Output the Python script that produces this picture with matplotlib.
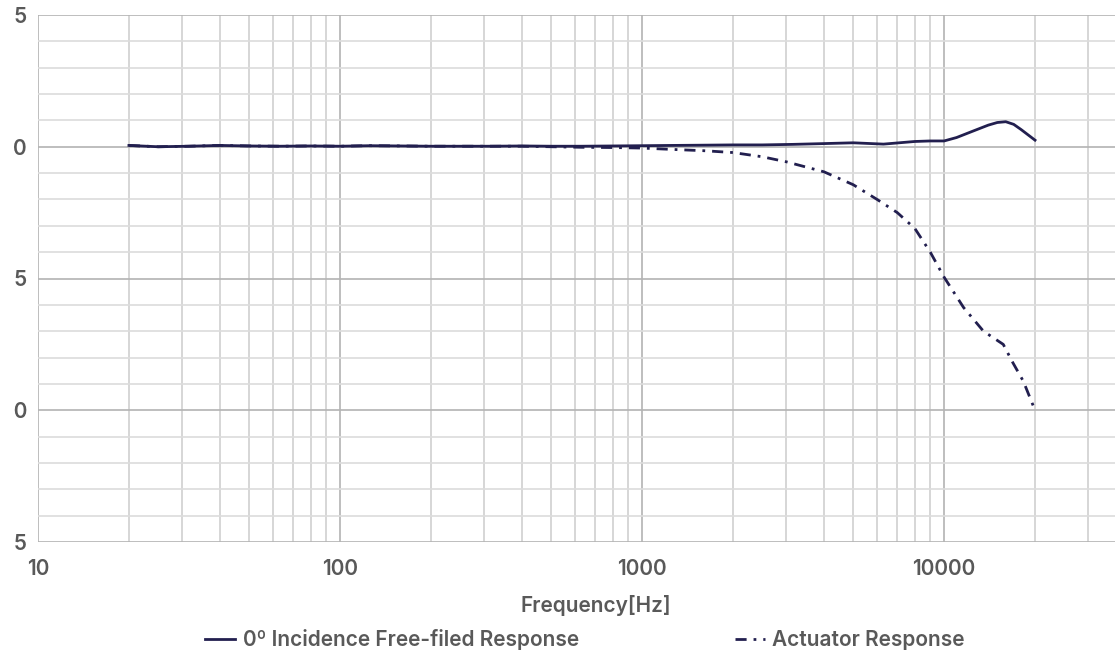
import matplotlib.pyplot as plt
from matplotlib.patches import Rectangle
from matplotlib.ticker import FixedLocator, NullFormatter

# free-field response (dB)
ff_freq = [20, 25, 31.5, 40, 50, 63, 80, 100, 125, 160, 200, 250, 315, 400, 500,
           630, 800, 1000, 1250, 1600, 2000, 2500, 3150, 4000, 5000, 6300, 8000,
           9000, 10000, 11000, 12500, 14000, 15000, 16000, 17000, 18000, 20000]
ff_db = [0.05, 0.0, 0.02, 0.05, 0.03, 0.02, 0.03, 0.02, 0.04, 0.03, 0.02, 0.02, 0.02,
         0.03, 0.02, 0.02, 0.03, 0.04, 0.05, 0.06, 0.07, 0.07, 0.09, 0.12, 0.15, 0.1,
         0.2, 0.22, 0.22, 0.35, 0.6, 0.82, 0.92, 0.95, 0.85, 0.65, 0.25]

# actuator response (dB)
act_freq = [20, 25, 31.5, 40, 50, 63, 80, 100, 125, 160, 200, 250, 315, 400, 500,
            630, 800, 1000, 1250, 1600, 2000, 2500, 3000, 4000, 5000, 6000, 7000,
            8000, 9000, 10000, 11600, 13500, 15700, 16900, 18300, 20000]
act_db = [0.05, 0.0, 0.02, 0.05, 0.03, 0.02, 0.03, 0.02, 0.04, 0.03, 0.02, 0.02, 0.02,
          0.02, 0.0, -0.02, -0.03, -0.05, -0.1, -0.15, -0.22, -0.38, -0.57, -0.95,
          -1.44, -2.0, -2.5, -3.1, -4.0, -4.95, -6.1, -7.0, -7.5, -8.2, -8.9, -10.0]

y_ticks = [5, 0, -5, -10, -15]
x_ticks = [10, 100, 1000, 10000]
x_ticklabels = ['10', '100', '1000', '10000']

W, H = 1115, 656
navy = '#221f4f'
grey = '#595959'
plt.rcParams['font.family'] = ['Inter', 'DejaVu Sans']

fig = plt.figure(figsize=(W / 100, H / 100), dpi=100)
ax = fig.add_axes([38 / W, 1 - 542 / H, 1 - 38 / W, (542 - 15) / H])

ax.plot(ff_freq, ff_db, color=navy, lw=2, label='0º Incidence Free-filed Response')
ax.plot(act_freq, act_db, color=navy, lw=2, linestyle=(0, (4, 2.5, 1, 2.5)),
        label='Actuator Response')

ax.set_xscale('log')
ax.set_xlim(10, 36800)
ax.set_ylim(-15, 5)
ax.set_xticks(x_ticks)
ax.set_xticklabels(x_ticklabels)
ax.xaxis.set_minor_locator(FixedLocator([m * d for d in [10, 100, 1000, 10000]
                                         for m in range(2, 10)]))
ax.xaxis.set_minor_formatter(NullFormatter())
ax.set_yticks(y_ticks)
ax.yaxis.set_minor_locator(FixedLocator(range(-15, 6)))

ax.grid(True, which='major', color='#b3b3b3', lw=1.2)
ax.grid(True, which='minor', axis='x', color='#cfcfcf', lw=1.2)
ax.grid(True, which='minor', axis='y', color='#dcdcdc', lw=1.2)
ax.set_axisbelow(True)
for s in ax.spines.values():
    s.set_visible(False)
ax.tick_params(which='both', length=0, labelsize=15, labelcolor=grey)
ax.tick_params(axis='y', pad=8)
ax.tick_params(axis='x', pad=12)
for t in ax.get_xticklabels() + ax.get_yticklabels():
    t.set_fontweight('semibold')

fig.text(596 / W, 1 - 606 / H, 'Frequency[Hz]', ha='center', va='center',
         fontsize=15, color=grey, fontweight='semibold')

leg = fig.legend(loc='center', bbox_to_anchor=(585 / W, 1 - 640 / H), ncol=2,
                 frameon=False, fontsize=15, handlelength=1.45, columnspacing=7.5,
                 handletextpad=0.35)
for t in leg.get_texts():
    t.set_color(grey)
    t.set_fontweight('semibold')

# the left edge of the original image cuts into the y labels
fig.patches.append(Rectangle((0, 0), 12 / W, 1, transform=fig.transFigure,
                             color='white', zorder=10))

fig.savefig('out.png', dpi=100)
